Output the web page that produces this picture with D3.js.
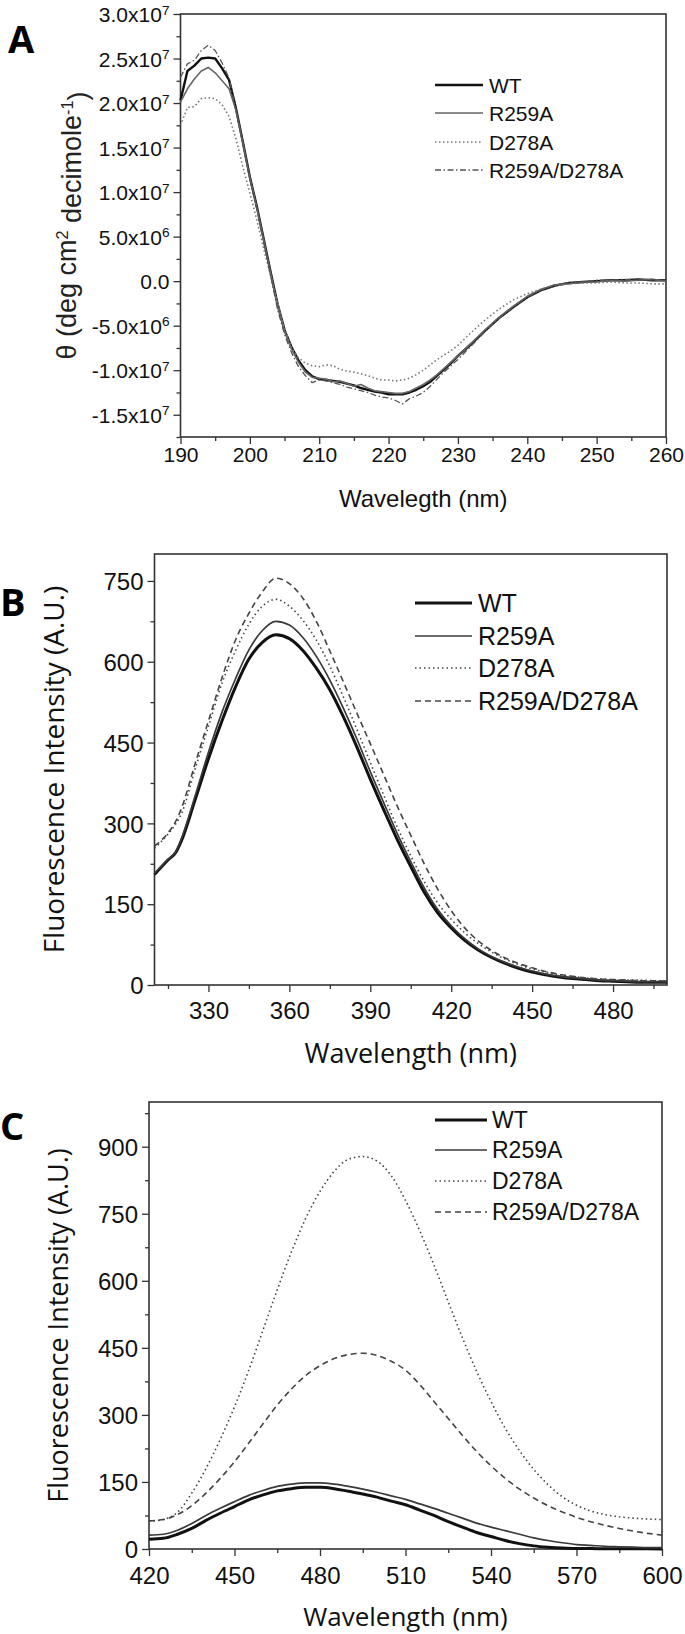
<!DOCTYPE html>
<html>
<head>
<meta charset="utf-8">
<script src="https://cdnjs.cloudflare.com/ajax/libs/d3/7.8.5/d3.min.js"></script>
<style>
  html, body { margin: 0; padding: 0; background: #fff; }
  svg { display: block; }
</style>
</head>
<body>
<svg id="fig" width="685" height="1634"></svg>
<script>
// ---------------- DATA ----------------
const seriesNames = ["WT", "R259A", "D278A", "R259A/D278A"];

// Panel A : CD spectra (values in units of 10^6 deg cm2 decimole-1)
const wlA = [190,191,192,193,194,195,196,197,198,199,200,201,202,203,204,205,206,207,208,209,
             210,211,212,213,214,215,216,217,218,219,220,221,222,223,224,225,226,227,228,229,
             230,232,234,236,238,240,242,244,246,248,250,252,254,256,258,260];
const cdWT = [20.3,23.6,24.2,25.0,25.1,25.0,23.9,22.6,19.4,15.6,11.7,8.4,4.7,1.0,-2.6,-5.5,-7.4,-8.9,-10.0,-10.7,
              -11.0,-11.1,-11.2,-11.3,-11.5,-11.7,-12.0,-12.2,-12.4,-12.5,-12.7,-12.7,-12.7,-12.5,-12.2,-11.8,-11.3,-10.6,-9.9,-9.2,
              -8.4,-7.0,-5.5,-4.1,-2.9,-1.8,-1.0,-0.5,-0.2,-0.1,0.0,0.1,0.1,0.2,0.1,0.1];
const cdR259A = [20.1,21.6,22.7,23.6,24.0,23.4,22.5,21.6,19.2,15.5,11.6,8.3,4.6,0.9,-2.8,-5.6,-7.6,-9.1,-10.2,-10.8,
              -10.9,-11.0,-11.3,-11.2,-11.5,-11.8,-11.6,-12.0,-12.3,-12.4,-12.5,-12.6,-12.6,-12.4,-12.0,-11.6,-11.1,-10.5,-9.8,-9.1,
              -8.4,-6.9,-5.4,-4.0,-2.8,-1.7,-0.9,-0.4,-0.3,-0.1,-0.1,0.1,0.0,0.1,0.2,0.0];
const cdD278A = [17.5,19.5,19.6,20.5,20.6,20.5,19.8,18.5,16.0,12.8,9.9,6.9,3.6,0.6,-2.4,-5.2,-7.5,-8.6,-9.2,-9.5,
              -9.6,-9.4,-9.5,-9.9,-10.1,-10.2,-10.4,-10.6,-10.9,-11.1,-11.1,-11.2,-11.1,-10.9,-10.5,-10.0,-9.4,-8.8,-8.3,-7.8,
              -7.2,-5.7,-4.3,-3.1,-2.1,-1.4,-0.9,-0.5,-0.3,-0.2,-0.2,-0.1,-0.2,-0.2,-0.3,-0.3];
const cdDouble = [22.9,24.4,24.8,25.9,26.5,25.9,24.5,22.8,19.3,15.4,11.5,8.1,4.4,0.6,-3.2,-6.0,-8.0,-9.6,-10.6,-11.4,
              -11.1,-11.2,-11.4,-11.6,-11.9,-12.1,-12.3,-12.5,-12.8,-13.0,-13.1,-13.4,-13.8,-13.2,-12.9,-12.5,-11.8,-11.0,-10.2,-9.5,
              -8.8,-7.2,-5.6,-4.1,-2.9,-1.8,-1.0,-0.4,-0.2,-0.1,0.1,0.1,0.2,0.1,0.2,0.1];
const ticksA_y = [-1.5e7,-1.0e7,-5.0e6,0,5.0e6,1.0e7,1.5e7,2.0e7,2.5e7,3.0e7];
const ticksA_x = [190,200,210,220,230,240,250,260];

// Panel B : intrinsic fluorescence
const wlB = [310,315,318,320,325,330,335,340,345,350,355,360,365,370,375,380,385,390,395,400,
             405,410,415,420,425,430,435,440,445,450,455,460,465,470,475,480,485,490,495,500];
const flB_WT    = [205,232,247,268,343,420,490,553,605,636,650,643,621,588,548,498,442,382,325,270,
                   220,172,134,106,83,65,51,40,31,24,19,15,12,10,8,7,6,5,5,5];
const flB_R259A = [207,233,248,272,350,432,506,568,622,658,675,668,645,610,566,514,457,396,338,281,
                   229,180,140,110,86,67,53,42,33,26,20,16,13,11,9,8,7,6,6,6];
const flB_D278A = [254,280,300,318,400,480,560,620,670,703,716,703,677,640,592,535,475,413,352,293,
                   240,192,152,122,97,77,61,48,38,30,24,19,16,13,11,10,9,9,8,8];
const flB_Double= [258,282,305,328,410,490,570,640,690,730,755,745,718,675,620,563,505,448,390,332,
                   278,225,178,138,106,82,64,50,40,32,25,20,16,13,11,10,9,8,8,7];
const ticksB_y = [0,150,300,450,600,750];
const ticksB_x = [330,360,390,420,450,480];

// Panel C : extrinsic fluorescence
const wlC = [420,425,430,435,440,445,450,455,460,465,470,475,480,485,490,495,500,505,510,515,
             520,525,530,535,540,545,550,555,560,565,570,575,580,585,590,595,600];
const flC_WT    = [22,24,33,46,64,80,95,110,121,130,135,138,138,135,129,123,116,107,99,87,
                   75,61,49,37,28,19,12,7,4,2,1,1,0.5,0.5,0.3,0.3,0.2];
const flC_R259A = [31,33,42,57,75,91,106,120,131,140,145,148,148,145,140,134,127,119,111,101,
                   91,80,69,58,49,41,33,25,19,14,10,8,6,5,4,3,3];
const flC_D278A = [62,66,82,125,180,245,318,400,490,580,665,740,800,845,872,878,868,835,780,712,
                   635,553,472,397,330,270,220,178,144,117,98,85,77,72,69,67,66];
const flC_Double= [63,66,77,97,125,158,195,237,280,322,358,388,410,426,435,438,433,420,400,368,
                   330,292,254,218,186,158,134,114,97,83,71,61,53,46,40,35,31];
const ticksC_y = [0,150,300,450,600,750,900];
const ticksC_x = [420,450,480,510,540,570,600];

// ---------------- DRAWING ----------------
const svg = d3.select("#fig");
const SANS = "'Liberation Sans', Arial, Helvetica, sans-serif";
const OPEN = "'Open Sans', 'Liberation Sans', Arial, sans-serif";

const stylesA = [
  {stroke:"#111", width:2.4, dash:null},
  {stroke:"#666", width:1.6, dash:null},
  {stroke:"#777", width:1.6, dash:"1.5,2.5"},
  {stroke:"#555", width:1.3, dash:"6,2.5,1.5,2.5"}
];
const stylesBC = [
  {stroke:"#111", width:3.0, dash:null},
  {stroke:"#3a3a3a", width:1.7, dash:null},
  {stroke:"#444", width:1.6, dash:"1.5,3"},
  {stroke:"#444", width:1.6, dash:"6,4"}
];

function expLabel(sel, d) {
  if (d === 0) { sel.text("0.0"); return; }
  const e = Math.floor(Math.log10(Math.abs(d)) + 1e-9);
  const m = d / Math.pow(10, e);
  sel.text(null);
  sel.append("tspan").text(m.toFixed(1) + "x10");
  sel.append("tspan").attr("dy", "-0.55em").attr("font-size", "0.65em").text(e);
}

function panel(cfg) {
  const g = svg.append("g");
  const x = d3.scaleLinear().domain(cfg.xDomain).range([cfg.left, cfg.right]);
  const y = d3.scaleLinear().domain(cfg.yDomain).range([cfg.bottom, cfg.top]);

  // frame
  g.append("rect")
    .attr("x", cfg.left).attr("y", cfg.top)
    .attr("width", cfg.right - cfg.left).attr("height", cfg.bottom - cfg.top)
    .attr("fill", "none").attr("stroke", "#333").attr("stroke-width", 1.6);

  // minor ticks
  const gxm = g.append("g").attr("transform", `translate(0,${cfg.bottom})`)
    .call(d3.axisBottom(x).tickValues(cfg.xMinor).tickSize(4).tickFormat(""));
  const gym = g.append("g").attr("transform", `translate(${cfg.left},0)`)
    .call(d3.axisLeft(y).tickValues(cfg.yMinor).tickSize(4).tickFormat(""));
  // major ticks
  const gx = g.append("g").attr("transform", `translate(0,${cfg.bottom})`)
    .call(d3.axisBottom(x).tickValues(cfg.xTicks).tickSize(7).tickPadding(4).tickFormat(d3.format("d")));
  const gy = g.append("g").attr("transform", `translate(${cfg.left},0)`)
    .call(d3.axisLeft(y).tickValues(cfg.yTicks).tickSize(7).tickPadding(cfg.yPad)
      .tickFormat(cfg.yExp ? (() => "") : d3.format("d")));
  [gxm, gym, gx, gy].forEach(a => {
    a.select(".domain").remove();
    a.selectAll(".tick line").attr("stroke", "#333").attr("stroke-width", 1.3);
  });
  gx.selectAll(".tick text").attr("font-family", SANS).attr("font-size", cfg.tickFont)
    .attr("fill", "#111").attr("dy", null).attr("y", cfg.xLabelOffset);
  gy.selectAll(".tick text").attr("font-family", SANS).attr("font-size", cfg.tickFont)
    .attr("fill", "#111").attr("dy", "0.36em");
  if (cfg.yExp) gy.selectAll(".tick text").each(function(d){ expLabel(d3.select(this), d); });

  // series
  const line = d3.line().x(d => x(d[0])).y(d => y(d[1])).curve(cfg.curve);
  cfg.series.forEach((s, i) => {
    const st = cfg.styles[i];
    g.append("path")
      .datum(cfg.xs.map((w, k) => [w, s[k] * cfg.mult]))
      .attr("d", line)
      .attr("fill", "none").attr("stroke", st.stroke).attr("stroke-width", st.width)
      .attr("stroke-dasharray", st.dash).attr("stroke-linejoin", "round");
  });

  // legend
  const lg = g.append("g");
  seriesNames.forEach((n, i) => {
    const st = cfg.styles[i];
    const yy = cfg.legY[i];
    lg.append("line").attr("x1", cfg.legX0).attr("x2", cfg.legX1).attr("y1", yy).attr("y2", yy)
      .attr("stroke", st.stroke).attr("stroke-width", st.width).attr("stroke-dasharray", st.dash);
    lg.append("text").attr("x", cfg.legText).attr("y", yy).attr("dy", "0.36em")
      .attr("font-family", SANS).attr("font-size", cfg.legFont).attr("fill", "#111").text(n);
  });

  // axis titles
  g.append("text").attr("x", (cfg.left + cfg.right) / 2).attr("y", cfg.xTitleY)
    .attr("text-anchor", "middle").attr("font-family", cfg.titleFamily)
    .attr("font-size", cfg.xTitleFont).attr("fill", "#111").text(cfg.xTitle);
  const yt = g.append("text")
    .attr("transform", `translate(${cfg.yTitleX},${(cfg.top + cfg.bottom) / 2}) rotate(-90)`)
    .attr("text-anchor", "middle").attr("font-family", cfg.titleFamily)
    .attr("font-size", cfg.yTitleFont).attr("fill", cfg.yTitleColor || "#111");
  cfg.yTitle(yt);

  // panel letter
  g.append("text").attr("x", cfg.letterX).attr("y", cfg.letterY)
    .attr("font-family", OPEN).attr("font-weight", "bold").attr("font-size", 38)
    .attr("fill", "#000").text(cfg.letter);
}

function range(a, b, s) { const r = []; for (let v = a; v <= b + 1e-9; v += s) r.push(v); return r; }

// Panel A
panel({
  letter: "A", letterX: 8, letterY: 53,
  left: 180.5, right: 666, top: 14, bottom: 437,
  xDomain: [190, 260], yDomain: [-1.75e7, 3.0e7],
  xTicks: ticksA_x, xMinor: range(195, 255, 10),
  yTicks: ticksA_y, yMinor: range(-1.75e7, 2.75e7, 5e6),
  yExp: true, tickFont: 21, yPad: 4, xLabelOffset: 25,
  xs: wlA, series: [cdWT, cdR259A, cdD278A, cdDouble], mult: 1e6,
  styles: stylesA, curve: d3.curveLinear,
  legX0: 435, legX1: 483, legText: 489, legY: [85, 113, 142, 170], legFont: 21,
  xTitle: "Wavelegth (nm)", xTitleY: 507, xTitleFont: 24, titleFamily: SANS,
  yTitleX: 76, yTitleFont: 27, yTitleColor: "#222",
  yTitle: t => {
    t.append("tspan").text("θ (deg cm");
    t.append("tspan").attr("dy", "-0.5em").attr("font-size", "0.6em").text("2");
    t.append("tspan").attr("dy", "0.5em").text(" decimole");
    t.append("tspan").attr("dy", "-0.5em").attr("font-size", "0.6em").text("-1");
    t.append("tspan").attr("dy", "0.5em").text(")");
  }
});

// Panel B
panel({
  letter: "B", letterX: 0, letterY: 616,
  left: 154.5, right: 667, top: 554, bottom: 985,
  xDomain: [310, 500], yDomain: [0, 800],
  xTicks: ticksB_x, xMinor: range(315, 495, 30),
  yTicks: ticksB_y, yMinor: range(75, 675, 150),
  yExp: false, tickFont: 24, yPad: 4, xLabelOffset: 34,
  xs: wlB, series: [flB_WT, flB_R259A, flB_D278A, flB_Double], mult: 1,
  styles: stylesBC, curve: d3.curveMonotoneX,
  legX0: 415, legX1: 472, legText: 478, legY: [603, 636, 668, 701], legFont: 25,
  xTitle: "Wavelength (nm)", xTitleY: 1063, xTitleFont: 27, titleFamily: OPEN,
  yTitleX: 64, yTitleFont: 28,
  yTitle: t => t.text("Fluorescence Intensity (A.U.)")
});

// Panel C
panel({
  letter: "C", letterX: 0, letterY: 1140,
  left: 149, right: 662, top: 1102, bottom: 1549,
  xDomain: [420, 600], yDomain: [0, 1000],
  xTicks: ticksC_x, xMinor: range(435, 585, 30),
  yTicks: ticksC_y, yMinor: range(75, 975, 150),
  yExp: false, tickFont: 24, yPad: 4, xLabelOffset: 35,
  xs: wlC, series: [flC_WT, flC_R259A, flC_D278A, flC_Double], mult: 1,
  styles: stylesBC, curve: d3.curveMonotoneX,
  legX0: 435, legX1: 487, legText: 492, legY: [1120, 1150, 1181, 1212], legFont: 23,
  xTitle: "Wavelength (nm)", xTitleY: 1626, xTitleFont: 26, titleFamily: OPEN,
  yTitleX: 68, yTitleFont: 27,
  yTitle: t => t.text("Fluorescence Intensity (A.U.)")
});
</script>
</body>
</html>
